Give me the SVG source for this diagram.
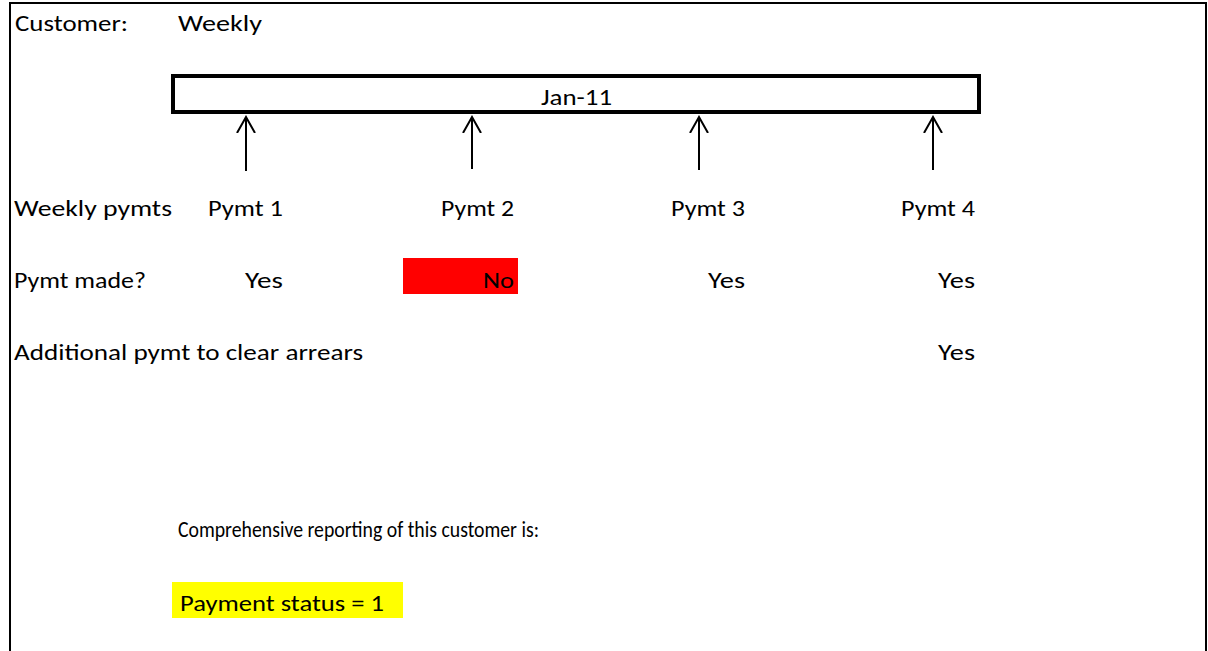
<svg xmlns="http://www.w3.org/2000/svg" width="1208" height="651" viewBox="0 0 1208 651">
  <style>
    text { font-family: Carlito, Lato, "Liberation Sans", sans-serif; font-size: 23px; fill: #000; }
    .frame { fill: none; stroke: #000; stroke-width: 2; }
    .period { fill: #fff; stroke: #000; stroke-width: 4; }
    .tick { stroke: #000; stroke-width: 2; fill: none; }
  </style>
  <defs>
    <!-- open chevron head, drawn along +x so orient="auto" points it up the shaft -->
    <marker id="head" viewBox="0 0 18 20" refX="16" refY="10" markerWidth="18" markerHeight="20" markerUnits="userSpaceOnUse" orient="auto">
      <path d="M0 1 L16 10 L0 19" fill="none" stroke="#000" stroke-width="2"/>
    </marker>
  </defs>
  <rect width="1208" height="651" fill="#fff"/>
  <rect class="frame" x="10" y="3" width="1196" height="660"/>

  <g id="header">
    <text x="15" y="31" textLength="113" lengthAdjust="spacingAndGlyphs">Customer:</text>
    <text x="178" y="31" textLength="84" lengthAdjust="spacingAndGlyphs">Weekly</text>
  </g>

  <g id="period">
    <rect class="period" x="173" y="76" width="806" height="36"/>
    <text x="541" y="105" textLength="71" lengthAdjust="spacingAndGlyphs">Jan-11</text>
  </g>

  <g id="connectors">
    <line class="tick" x1="246" y1="171" x2="246" y2="117" marker-end="url(#head)"/>
    <line class="tick" x1="472" y1="169" x2="472" y2="117" marker-end="url(#head)"/>
    <line class="tick" x1="699" y1="170" x2="699" y2="117" marker-end="url(#head)"/>
    <line class="tick" x1="933" y1="170" x2="933" y2="117" marker-end="url(#head)"/>
  </g>

  <g id="row-weekly">
    <text x="14" y="216" textLength="158" lengthAdjust="spacingAndGlyphs">Weekly pymts</text>
    <text x="208" y="216" textLength="75" lengthAdjust="spacingAndGlyphs">Pymt 1</text>
    <text x="441" y="216" textLength="73" lengthAdjust="spacingAndGlyphs">Pymt 2</text>
    <text x="671" y="216" textLength="74" lengthAdjust="spacingAndGlyphs">Pymt 3</text>
    <text x="901" y="216" textLength="74" lengthAdjust="spacingAndGlyphs">Pymt 4</text>
  </g>

  <g id="row-made">
    <text x="14" y="288" textLength="132" lengthAdjust="spacingAndGlyphs">Pymt made?</text>
    <text x="245" y="288" textLength="38" lengthAdjust="spacingAndGlyphs">Yes</text>
    <rect x="403" y="258" width="115" height="36" fill="#ff0000"/>
    <text x="483" y="288" textLength="31" lengthAdjust="spacingAndGlyphs">No</text>
    <text x="708" y="288" textLength="37" lengthAdjust="spacingAndGlyphs">Yes</text>
    <text x="938" y="288" textLength="37" lengthAdjust="spacingAndGlyphs">Yes</text>
  </g>

  <g id="row-additional">
    <text x="14" y="360" textLength="349" lengthAdjust="spacingAndGlyphs">Additional pymt to clear arrears</text>
    <text x="938" y="360" textLength="37" lengthAdjust="spacingAndGlyphs">Yes</text>
  </g>

  <g id="summary">
    <text x="178" y="537" textLength="361" lengthAdjust="spacingAndGlyphs">Comprehensive reporting of this customer is:</text>
    <rect x="172" y="582" width="231" height="36" fill="#ffff00"/>
    <text x="180" y="611" textLength="204" lengthAdjust="spacingAndGlyphs">Payment status = 1</text>
  </g>
</svg>
